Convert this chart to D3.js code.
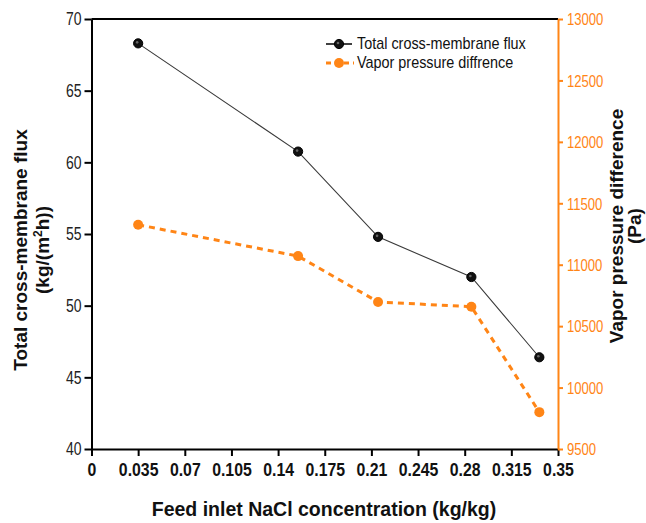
<!DOCTYPE html>
<html>
<head>
<meta charset="utf-8">
<script src="https://cdn.jsdelivr.net/npm/d3@7"></script>
<style>
  html, body { margin: 0; padding: 0; background: #fff; }
  svg { display: block; }
</style>
</head>
<body>
<svg id="chart" width="646" height="523"></svg>
<script>
// NaCl concentration at the feed inlet (kg/kg)
const concentration = [0.035, 0.155, 0.215, 0.285, 0.336];
// Total cross-membrane flux, kg/(m2 h)
const flux = [68.3, 60.75, 54.8, 52.0, 46.4];
// Vapor pressure difference, Pa
const vaporDiff = [11325, 11070, 10697, 10658, 9800];

const xTicks = [0, 0.035, 0.07, 0.105, 0.14, 0.175, 0.21, 0.245, 0.28, 0.315, 0.35];
const xTickLabels = ["0", "0.035", "0.07", "0.105", "0.14", "0.175", "0.21", "0.245", "0.28", "0.315", "0.35"];
const yLeftTicks = [40, 45, 50, 55, 60, 65, 70];
const yRightTicks = [9500, 10000, 10500, 11000, 11500, 12000, 12500, 13000];

const ORANGE = "#ff8516";
const SANS = "'Liberation Sans', Arial, sans-serif";

const svg = d3.select("#chart");
const plotLeft = 91.5, plotRight = 558, plotTop = 19, plotBottom = 449;

const x = d3.scaleLinear().domain([0, 0.35]).range([plotLeft, plotRight]);
const yL = d3.scaleLinear().domain([40, 70]).range([plotBottom, plotTop]);
const yR = d3.scaleLinear().domain([9500, 13000]).range([plotBottom, plotTop]);

// condensed lettering: squeeze text horizontally around its own anchor
function condense(sel, s, xPos) {
  sel.attr("x", xPos / s).attr("transform", `scale(${s},1)`);
}

// top frame line
svg.append("line")
  .attr("x1", plotLeft).attr("x2", plotRight).attr("y1", plotTop).attr("y2", plotTop)
  .attr("stroke", "#000").attr("stroke-width", 2);

// bottom axis
const xAxis = svg.append("g")
  .attr("transform", `translate(0,${plotBottom})`)
  .call(d3.axisBottom(x).tickValues(xTicks)
    .tickFormat((d, i) => xTickLabels[i]).tickSize(7).tickSizeOuter(0));
xAxis.select(".domain").attr("stroke", "#000").attr("stroke-width", 2);
xAxis.selectAll(".tick line").attr("stroke", "#000").attr("stroke-width", 2);
xAxis.selectAll(".tick text")
  .attr("dy", "0").attr("y", 27)
  .style("font-family", SANS).style("font-weight", "bold")
  .style("font-size", "18px").attr("fill", "#111")
  .call(condense, 0.88, 0);

// left axis
const yAxisL = svg.append("g")
  .attr("transform", `translate(${plotLeft},0)`)
  .call(d3.axisLeft(yL).tickValues(yLeftTicks).tickSize(7).tickSizeOuter(0));
yAxisL.select(".domain").attr("stroke", "#000").attr("stroke-width", 2);
yAxisL.selectAll(".tick line").attr("stroke", "#000").attr("stroke-width", 2);
yAxisL.selectAll(".tick text")
  .attr("dy", "0.34em")
  .style("font-family", SANS).style("font-size", "17.5px").attr("fill", "#222")
  .call(condense, 0.8, -10);

// right axis
const yAxisR = svg.append("g")
  .attr("transform", `translate(${plotRight},0)`)
  .call(d3.axisRight(yR).tickValues(yRightTicks).tickFormat(d3.format("d"))
    .tickSize(5).tickSizeOuter(0));
yAxisR.select(".domain").attr("stroke", ORANGE).attr("stroke-width", 2);
yAxisR.selectAll(".tick line").attr("stroke", ORANGE).attr("stroke-width", 2);
yAxisR.selectAll(".tick text")
  .attr("dy", "0.34em")
  .style("font-family", SANS).style("font-size", "17px").attr("fill", ORANGE)
  .call(condense, 0.77, 9);

// axis titles
const leftTitle = svg.append("text")
  .attr("transform", `translate(27,250) rotate(-90)`)
  .attr("text-anchor", "middle")
  .style("font-family", SANS).style("font-weight", "bold").style("font-size", "19px")
  .attr("fill", "#111");
leftTitle.append("tspan").attr("x", 0).attr("y", 0).text("Total cross-membrane flux");
const l2 = leftTitle.append("tspan").attr("x", 0).attr("y", 22);
l2.append("tspan").text("(kg/(m");
l2.append("tspan").attr("dy", -7).style("font-size", "12px").text("2");
l2.append("tspan").attr("dy", 7).text("h))");

const rightTitle = svg.append("text")
  .attr("transform", `translate(623,226) rotate(-90)`)
  .attr("text-anchor", "middle")
  .style("font-family", SANS).style("font-weight", "bold").style("font-size", "19px")
  .attr("fill", "#111");
rightTitle.append("tspan").attr("x", 0).attr("y", 0).text("Vapor pressure difference");
rightTitle.append("tspan").attr("x", 0).attr("y", 18).text("(Pa)");

svg.append("text")
  .attr("x", 324).attr("y", 516)
  .attr("text-anchor", "middle")
  .style("font-family", SANS).style("font-weight", "bold").style("font-size", "19.5px")
  .attr("fill", "#111")
  .text("Feed inlet NaCl concentration (kg/kg)");

// series lines
const fluxLine = d3.line().x((d, i) => x(concentration[i])).y(d => yL(d));
const vapLine = d3.line().x((d, i) => x(concentration[i])).y(d => yR(d));

svg.append("path").datum(flux)
  .attr("d", fluxLine).attr("fill", "none")
  .attr("stroke", "#3a3a3a").attr("stroke-width", 1.1);

svg.append("path").datum(vaporDiff)
  .attr("d", vapLine).attr("fill", "none")
  .attr("stroke", ORANGE).attr("stroke-width", 3)
  .attr("stroke-dasharray", "6,5");

// markers
function blackMarker(g, cx, cy) {
  g.append("circle").attr("cx", cx).attr("cy", cy).attr("r", 4.6)
    .attr("fill", "#111").attr("stroke", "#000").attr("stroke-width", 1);
  g.append("circle").attr("cx", cx - 1).attr("cy", cy - 1).attr("r", 1.3)
    .attr("fill", "#666");
}
function orangeMarker(g, cx, cy) {
  g.append("circle").attr("cx", cx).attr("cy", cy).attr("r", 5)
    .attr("fill", ORANGE);
}

const marks = svg.append("g");
flux.forEach((v, i) => blackMarker(marks, x(concentration[i]), yL(v)));
vaporDiff.forEach((v, i) => orangeMarker(marks, x(concentration[i]), yR(v)));

// legend
const lg = svg.append("g");
lg.append("line").attr("x1", 326).attr("x2", 352).attr("y1", 44).attr("y2", 44)
  .attr("stroke", "#000").attr("stroke-width", 1.5);
blackMarker(lg, 339, 44);
lg.append("text").attr("y", 49.5)
  .style("font-family", SANS).style("font-size", "16px").attr("fill", "#111")
  .text("Total cross-membrane flux")
  .call(condense, 0.9, 357);

lg.append("line").attr("x1", 326).attr("x2", 354).attr("y1", 63).attr("y2", 63)
  .attr("stroke", ORANGE).attr("stroke-width", 3).attr("stroke-dasharray", "5,4");
orangeMarker(lg, 339, 63);
lg.append("text").attr("y", 68.5)
  .style("font-family", SANS).style("font-size", "16px").attr("fill", "#111")
  .text("Vapor pressure diffrence")
  .call(condense, 0.9, 357);
</script>
</body>
</html>
